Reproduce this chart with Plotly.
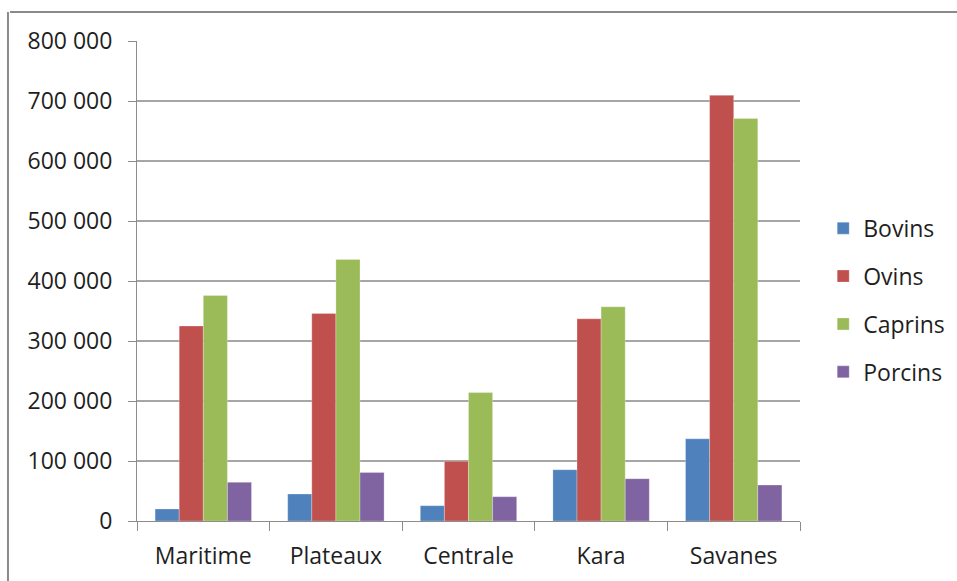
import plotly.graph_objects as go

categories = ["Maritime", "Plateaux", "Centrale", "Kara", "Savanes"]
bovins = [20000, 45000, 25500, 85500, 137000]
ovins = [325000, 346000, 99500, 337000, 709500]
caprins = [376000, 436000, 214000, 357000, 671000]
porcins = [64500, 81000, 40500, 70500, 60000]

series_names = ["Bovins", "Ovins", "Caprins", "Porcins"]
series_values = [bovins, ovins, caprins, porcins]
colors = ["#4F81BD", "#C0504D", "#9BBB59", "#8064A2"]

tick_vals = [0, 100000, 200000, 300000, 400000, 500000, 600000, 700000, 800000]
tick_text = ["0", "100 000", "200 000", "300 000", "400 000", "500 000",
             "600 000", "700 000", "800 000"]

FONT = "'Open Sans', Lato, sans-serif"
FS = 23

fig = go.Figure()
for i, (name, vals, col) in enumerate(zip(series_names, series_values, colors)):
    fig.add_trace(go.Bar(
        x=categories, y=vals, name=name, legendgroup=name,
        marker=dict(color=col, line=dict(color="rgba(255,255,255,0.45)", width=0.6)),
    ))

fig.update_layout(
    width=957, height=581,
    margin=dict(l=137, r=157, t=41, b=60, autoexpand=False),
    paper_bgcolor="white", plot_bgcolor="white",
    barmode="group", bargap=0.273, bargroupgap=0,
    font=dict(family=FONT, size=FS, color="#1f1f1f"),
    legend=dict(
        x=1.035, xanchor="left", y=0.46, yanchor="middle",
        tracegroupgap=15, font=dict(size=FS, color="#1f1f1f"),
        bgcolor="rgba(0,0,0,0)",
    ),
    shapes=[
        dict(type="line", xref="paper", yref="paper",
             x0=-0.1916, x1=1.3, y0=1.0604, y1=1.0604,
             line=dict(color="#8a8a8a", width=2)),
        dict(type="line", xref="paper", yref="paper",
             x0=-0.1946, x1=-0.1946, y0=1.0604, y1=-0.2,
             line=dict(color="#8a8a8a", width=2)),
    ],
)

fig.update_xaxes(
    showline=True, linecolor="#8c8c8c", linewidth=1,
    ticks="outside", tickson="boundaries", ticklen=9, tickcolor="#8c8c8c",
    showgrid=False, tickfont=dict(size=FS, color="#1f1f1f"),
    ticklabelstandoff=14,
)
fig.update_yaxes(
    range=[0, 800000], tickvals=tick_vals, ticktext=tick_text,
    showline=True, linecolor="#8c8c8c", linewidth=1,
    ticks="outside", ticklen=8, tickcolor="#8c8c8c",
    showgrid=True, gridcolor="#a6a6a6", gridwidth=1.5,
    ticklabelstandoff=11, tickfont=dict(size=FS, color="#1f1f1f"),
    zeroline=False,
)

fig.write_html("out.html")
